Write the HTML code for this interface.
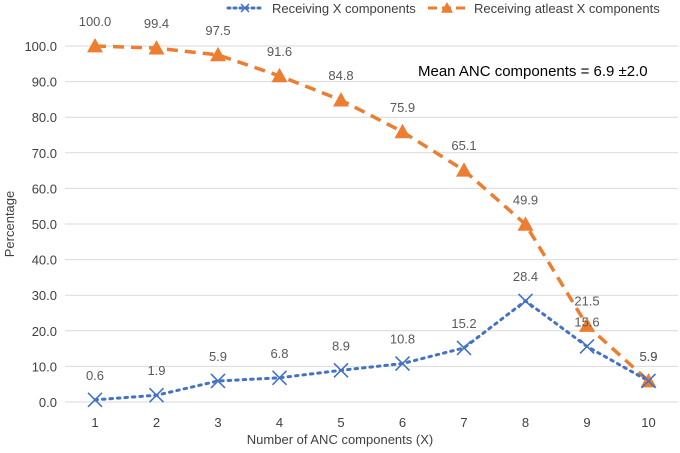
<!DOCTYPE html>
<html><head><meta charset="utf-8"><style>
body{margin:0;background:#fff;font-family:"Liberation Sans",sans-serif}
svg text{font-family:"Liberation Sans",sans-serif}
</style></head><body>
<svg width="680" height="448">
<g id="grid"></g><g id="series"></g>
</svg>
<script>
const categories=[1,2,3,4,5,6,7,8,9,10];
const receivingX=[0.6,1.9,5.9,6.8,8.9,10.8,15.2,28.4,15.6,5.9];
const atLeastX=[100.0,99.4,97.5,91.6,84.8,75.9,65.1,49.9,21.5,5.9];
const yTicks=[0,10,20,30,40,50,60,70,80,90,100];
const svg=document.querySelector('svg');
const NS='http://www.w3.org/2000/svg';
const x=c=>95+(c-1)*61.5;
const y=v=>402-v*3.56;
function el(tag,attrs,txt){const e=document.createElementNS(NS,tag);for(const k in attrs)e.setAttribute(k,attrs[k]);if(txt!==undefined)e.textContent=txt;svg.appendChild(e);return e;}
yTicks.forEach(t=>{
 const l=el('line',{x1:65,x2:678,y1:y(t),y2:y(t),stroke:'#d9d9d9','stroke-width':1});
 
 
 const tx=el('text',{x:57,y:y(t)+5,'text-anchor':'end','font-size':13,fill:'#404040'},t.toFixed(1));
 
 
});
categories.forEach(c=>{
 const tx=el('text',{x:x(c),y:427,'text-anchor':'middle','font-size':13,fill:'#404040'},c);
 
 
});
let t=el('text',{x:340,y:444,'text-anchor':'middle','font-size':13,fill:'#404040'},'Number of ANC components (X)');

t=el('text',{x:14,y:224,'text-anchor':'middle','font-size':13,fill:'#404040',transform:'rotate(-90 14 224)'},'Percentage');

t=el('text',{x:418,y:76,'font-size':15,fill:'#000'},'Mean ANC components = 6.9 ±2.0');

// orange
let p=el('polyline',{points:categories.map((c,i)=>x(c)+','+y(atLeastX[i])).join(' '),fill:'none',stroke:'#ed7d31','stroke-width':3.5,'stroke-dasharray':'11,7'});

p=el('polyline',{points:categories.map((c,i)=>x(c)+','+y(receivingX[i])).join(' '),fill:'none',stroke:'#4472c4','stroke-width':3,'stroke-dasharray':'2.5,5','stroke-linecap':'round'});

function tri(cx,cy,s){return `${cx},${cy-s} ${cx-s},${cy+s*0.8} ${cx+s},${cy+s*0.8}`;}
categories.forEach((c,i)=>{
 const m=el('polygon',{points:tri(x(c),y(atLeastX[i]),8),fill:'#ed7d31'});
 
 const l=el('text',{x:x(c),y:y(atLeastX[i])-20,'text-anchor':'middle','font-size':13,fill:'#595959'},atLeastX[i].toFixed(1));
 
 const X=x(c),Y=y(receivingX[i]);
 const mk=el('path',{d:`M${X-7},${Y-7}L${X+7},${Y+7}M${X-7},${Y+7}L${X+7},${Y-7}`,stroke:'#4472c4','stroke-width':1.6});
 
 const l2=el('text',{x:X,y:Y-20,'text-anchor':'middle','font-size':13,fill:'#595959'},receivingX[i].toFixed(1));
 
});
// legend
let g=el('line',{x1:228,x2:262,y1:8,y2:8,stroke:'#4472c4','stroke-width':3,'stroke-dasharray':'2,4','stroke-linecap':'round'});

g=el('path',{d:'M241,4L249,12M241,12L249,4',stroke:'#4472c4','stroke-width':1.5});

g=el('text',{x:272,y:13,'font-size':13,fill:'#404040'},'Receiving X components');

g=el('line',{x1:428,x2:466,y1:8,y2:8,stroke:'#ed7d31','stroke-width':3,'stroke-dasharray':'9,5'});

g=el('polygon',{points:tri(447,8,6),fill:'#ed7d31'});

g=el('text',{x:474,y:13,'font-size':13,fill:'#404040'},'Receiving atleast X components');

</script>
</body></html>
